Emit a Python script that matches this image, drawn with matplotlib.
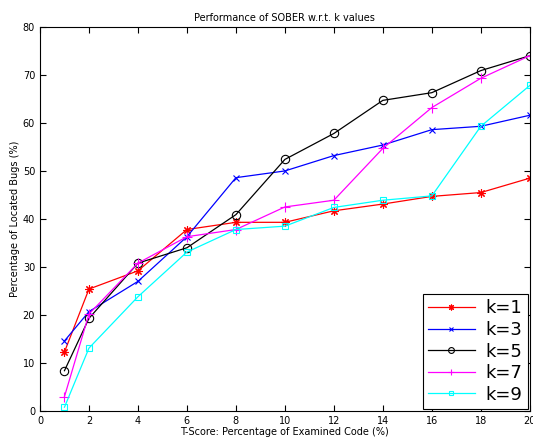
import matplotlib
matplotlib.use('Agg')
import matplotlib.pyplot as plt

x_vals = [1, 2, 4, 6, 8, 10, 12, 14, 16, 18, 20]
k1 = [12.3, 25.4, 29.2, 37.8, 39.3, 39.3, 41.7, 43.1, 44.7, 45.5, 48.5]
k3 = [14.6, 20.7, 27.0, 36.3, 48.6, 50.0, 53.2, 55.4, 58.6, 59.3, 61.6]
k5 = [8.4, 19.3, 30.8, 34.0, 40.9, 52.4, 57.8, 64.7, 66.3, 70.9, 74.0]
k7 = [3.0, 20.2, 30.8, 36.3, 37.8, 42.5, 43.9, 54.7, 63.2, 69.3, 74.0]
k9 = [0.8, 13.1, 23.8, 33.1, 37.8, 38.5, 42.4, 43.9, 44.8, 59.3, 67.8]
labels = ['k=1', 'k=3', 'k=5', 'k=7', 'k=9']

fig = plt.figure(figsize=(5.33, 4.41), dpi=100)
ax = fig.add_axes([0.075, 0.068, 0.919, 0.871])

# (8,2,0) gives the matlab style asterisk
styles = [('red', (8, 2, 0), 6), ('blue', 'x', 4), ('black', 'o', 6),
          ('magenta', '+', 7), ('cyan', 's', 5)]
for ys, lab, (col, mk, ms) in zip([k1, k3, k5, k7, k9], labels, styles):
    ax.plot(x_vals, ys, color=col, marker=mk, markersize=ms, linewidth=0.9,
            markerfacecolor='none', markeredgecolor=col, markeredgewidth=0.8, label=lab)

ax.set_xlim(0, 20)
ax.set_ylim(0, 80)
ax.set_xticks(range(0, 21, 2))
ax.set_yticks(range(0, 81, 10))
ax.tick_params(direction='in', labelsize=7, length=4, top=True, right=True)
ax.set_xlabel('T-Score: Percentage of Examined Code (%)', fontsize=7, labelpad=1)
ax.set_ylabel('Percentage of Located Bugs (%)', fontsize=7, labelpad=2)
ax.set_title('Performance of SOBER w.r.t. k values', fontsize=7, pad=4)

leg = ax.legend(loc='lower right', fontsize=13, fancybox=False, framealpha=1,
                edgecolor='black', handlelength=2.6, borderaxespad=0.1,
                labelspacing=0.2, borderpad=0.3, handletextpad=0.6, markerscale=0.7)
leg.get_frame().set_linewidth(0.8)

fig.savefig('out.png', dpi=100)
